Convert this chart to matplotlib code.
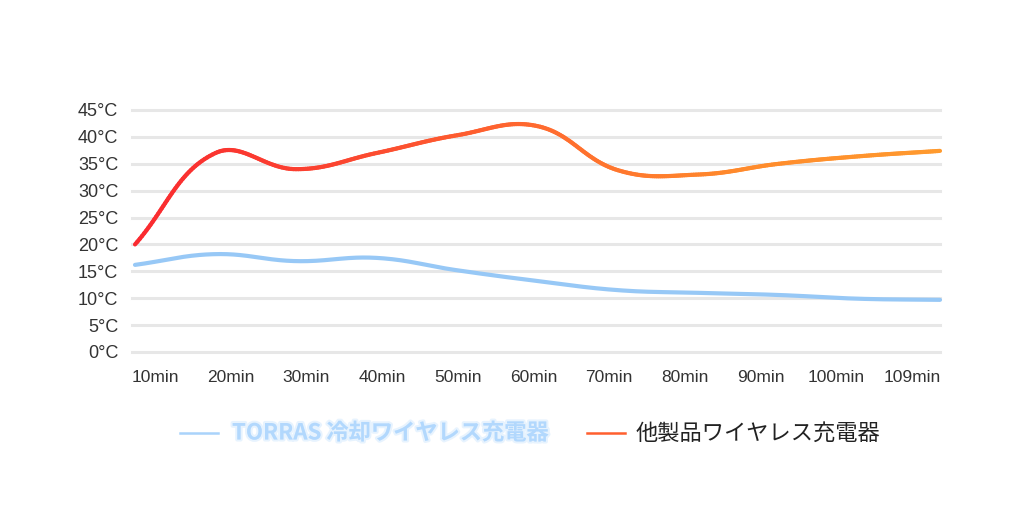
import numpy as np
import matplotlib
matplotlib.use("Agg")
import matplotlib.pyplot as plt
import matplotlib.patheffects as pe
from matplotlib.collections import LineCollection
from matplotlib.colors import LinearSegmentedColormap
from matplotlib.lines import Line2D

plt.rcParams['font.family'] = ['Liberation Sans', 'Noto Sans CJK JP', 'DejaVu Sans']

minutes = ['10min', '20min', '30min', '40min', '50min', '60min',
           '70min', '80min', '90min', '100min', '109min']
torras = [16.2, 18.2, 16.9, 17.5, 15.2, 13.2, 11.5, 11.0, 10.6, 9.9, 9.7]
others = [20.0, 37.0, 34.0, 37.0, 40.3, 42.0, 33.8, 33.0, 35.0, 36.4, 37.4]
y_ticks = [0, 5, 10, 15, 20, 25, 30, 35, 40, 45]
series_names = ['TORRAS 冷却ワイヤレス充電器', '他製品ワイヤレス充電器']


def smooth(xs, ys, sx, sy, tension=0.4, n=40):
    # chart.js style bezier spline, distances measured in pixel space
    px = np.asarray(xs, float) * sx
    py = np.asarray(ys, float) * sy
    m = len(px)
    c1, c2 = [], []
    for i in range(m):
        prev = (px[max(i - 1, 0)], py[max(i - 1, 0)])
        nxt = (px[min(i + 1, m - 1)], py[min(i + 1, m - 1)])
        d01 = np.hypot(px[i] - prev[0], py[i] - prev[1])
        d12 = np.hypot(nxt[0] - px[i], nxt[1] - py[i])
        tot = d01 + d12 if d01 + d12 > 0 else 1
        fa, fb = tension * d01 / tot, tension * d12 / tot
        c1.append((px[i] - fa * (nxt[0] - prev[0]), py[i] - fa * (nxt[1] - prev[1])))
        c2.append((px[i] + fb * (nxt[0] - prev[0]), py[i] + fb * (nxt[1] - prev[1])))
    outx, outy = [], []
    t = np.linspace(0, 1, n)
    for i in range(m - 1):
        p0 = np.array([px[i], py[i]])
        p1 = np.array(c2[i])
        p2 = np.array(c1[i + 1])
        p3 = np.array([px[i + 1], py[i + 1]])
        b = ((1 - t) ** 3)[:, None] * p0 + (3 * (1 - t) ** 2 * t)[:, None] * p1 \
            + (3 * (1 - t) * t ** 2)[:, None] * p2 + (t ** 3)[:, None] * p3
        outx.extend(b[:, 0] / sx)
        outy.extend(b[:, 1] / sy)
    return np.array(outx), np.array(outy)


fig = plt.figure(figsize=(10.24, 5.13), dpi=100)
W, H = 1024, 513
ax = fig.add_axes([135 / W, 1 - 352 / H, (940 - 135) / W, (352 - 110) / H])

x = np.arange(len(minutes))
ax.set_xlim(0, len(minutes) - 1)
ax.set_ylim(0, 45)

for v in y_ticks:
    ax.axhline(v, xmin=-0.004, xmax=1, color='#e7e7e7', lw=2.2, zorder=1, clip_on=False)

sx = 80.5
sy = 242 / 45

bx, by = smooth(x, torras, sx, sy)
ax.plot(bx, by, color='#97c8f6', lw=3, solid_capstyle='round', zorder=3, clip_on=False)

ox, oy = smooth(x, others, sx, sy)
pts = np.column_stack([ox, oy]).reshape(-1, 1, 2)
segs = np.concatenate([pts[:-1], pts[1:]], axis=1)
cmap = LinearSegmentedColormap.from_list('ro', ['#fa2a30', '#fb4530', '#ff6a2f', '#ff8a2c', '#ff9a2e'])
lc = LineCollection(segs, cmap=cmap, norm=plt.Normalize(0, len(minutes) - 1),
                    lw=3, capstyle='round', zorder=4, clip_on=False)
lc.set_array((ox[:-1] + ox[1:]) / 2)
ax.add_collection(lc)

ax.set_yticks(y_ticks, [f'{v}°C' for v in y_ticks])
ax.set_xticks(0.25 + x * 0.94, minutes)
ax.tick_params(axis='y', length=0, pad=12, labelsize=13, labelcolor='#333333')
ax.tick_params(axis='x', length=0, pad=13, labelsize=12.5, labelcolor='#333333')
for s in ax.spines.values():
    s.set_visible(False)

# legend
ly = 1 - 433 / H
fig.add_artist(Line2D([180 / W, 218 / W], [ly, ly], transform=fig.transFigure,
                      color='#a9d3fb', lw=1.8))
fig.text(232 / W, ly, series_names[0], fontsize=16, fontweight='bold', color='#b2d8fd',
         va='center', ha='left', family=['Noto Sans CJK JP', 'DejaVu Sans'],
         path_effects=[pe.withStroke(linewidth=3, foreground='#d8ebfe', alpha=0.6)])
fig.add_artist(Line2D([587 / W, 625 / W], [ly, ly], transform=fig.transFigure,
                      color='#ff5f2e', lw=1.8))
fig.text(636 / W, ly, series_names[1], fontsize=16, color='#222222',
         va='center', ha='left', family=['Noto Sans CJK JP', 'DejaVu Sans'])

fig.savefig('out.png', dpi=100, facecolor='white')
